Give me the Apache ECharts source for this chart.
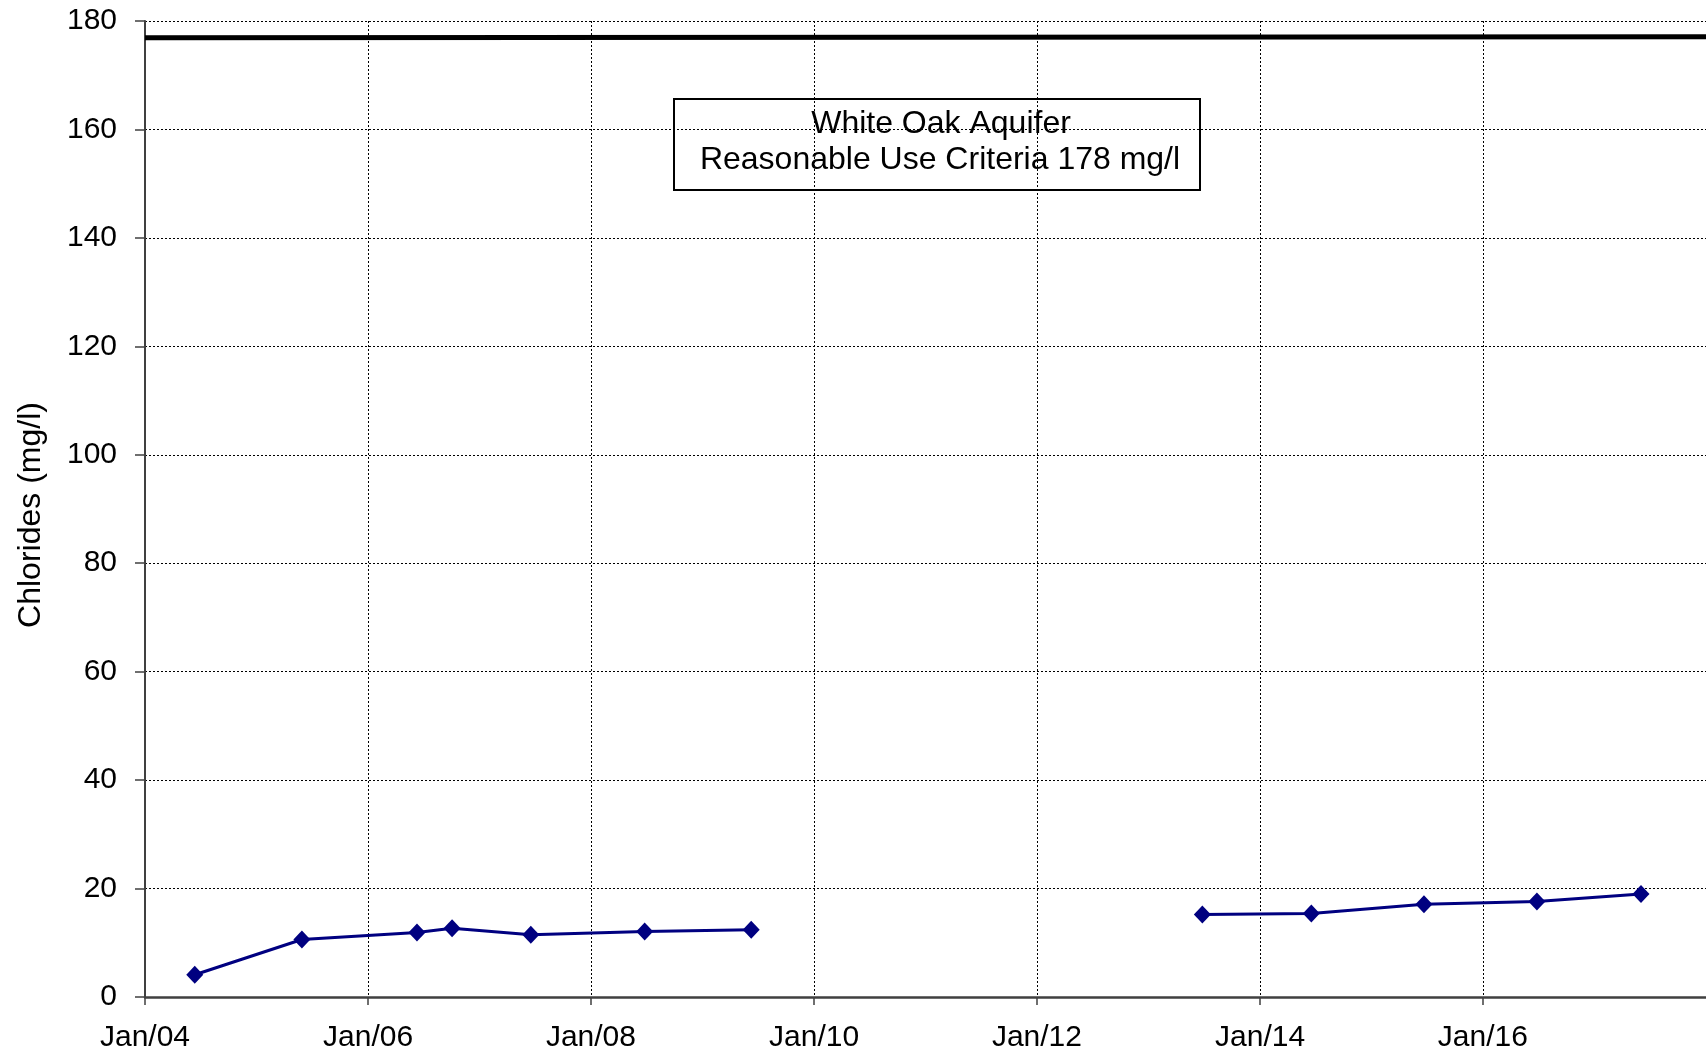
<!DOCTYPE html>
<html>
<head>
<meta charset="utf-8">
<title>Chlorides - White Oak Aquifer</title>
<script src="https://cdn.jsdelivr.net/npm/echarts@6/dist/echarts.min.js"></script>
<style>
html, body { margin: 0; padding: 0; background: #fff; }
#chart { width: 1706px; height: 1055px; }
</style>
</head>
<body>
<div id="chart"></div>
<script>
// sampling dates and chloride results (mg/l), first period
var datesA = ['2004-06-12', '2005-05-29', '2006-06-10', '2006-10-03', '2007-06-18', '2008-06-25', '2009-06-09']
var chloridesA = [4.1, 10.6, 11.9, 12.7, 11.5, 12.1, 12.4]
// second period
var datesB = ['2013-06-26', '2014-06-18', '2015-06-22', '2016-06-26', '2017-06-02']
var chloridesB = [15.2, 15.4, 17.1, 17.6, 19.0]
// reasonable use criteria line
var criteriaDates = ['2004-01-01', '2018-01-01']
var criteriaValues = [176.9, 177.1]
var boxLines = ['White Oak Aquifer', 'Reasonable Use Criteria 178 mg/l']

var FONT = '"Liberation Sans", Arial, sans-serif'
var TWO_YEARS = 2 * 365 * 24 * 3600 * 1000

function utc(s) {
  var p = s.split('-')
  return Date.UTC(+p[0], +p[1] - 1, +p[2])
}
function pairs(dates, vals) {
  return dates.map(function (d, i) {
    return [utc(d), vals[i]]
  })
}

var myChart = echarts.init(document.getElementById('chart'))

var pointSeries = function (dates, vals) {
  return {
    name: 'Chlorides',
    type: 'line',
    data: pairs(dates, vals),
    symbol: 'diamond',
    symbolSize: [17, 18],
    showAllSymbol: true,
    lineStyle: { color: '#000080', width: 3 },
    itemStyle: { color: '#000080' },
    z: 5
  }
}

var option = {
  useUTC: true,
  animation: false,
  backgroundColor: '#fff',
  grid: { left: 145, top: 21, right: 0, bottom: 58 },
  xAxis: {
    type: 'time',
    min: utc(criteriaDates[0]),
    max: utc(criteriaDates[1]),
    minInterval: TWO_YEARS,
    maxInterval: TWO_YEARS,
    axisLine: { lineStyle: { color: '#404040', width: 2.5 } },
    axisTick: { show: true, length: 8, lineStyle: { color: '#404040', width: 1.5 } },
    axisLabel: {
      color: '#000',
      fontFamily: FONT,
      fontSize: 30,
      margin: 26,
      showMaxLabel: false,
      formatter: function (v) {
        var y = new Date(v).getUTCFullYear()
        return 'Jan/' + String(y).slice(2)
      }
    },
    splitLine: { show: true, lineStyle: { color: '#000', width: 1, type: [2, 2] } },
    minorTick: { show: false }
  },
  yAxis: {
    type: 'value',
    min: 0,
    max: 180,
    interval: 20,
    name: 'Chlorides (mg/l)',
    nameLocation: 'middle',
    nameGap: 98,
    nameTextStyle: { color: '#000', fontFamily: FONT, fontSize: 32, padding: [0, 12, 0, 0] },
    axisLine: { show: true, lineStyle: { color: '#404040', width: 2 } },
    axisTick: { show: true, length: 10, lineStyle: { color: '#404040', width: 1.5 } },
    axisLabel: { color: '#000', fontFamily: FONT, fontSize: 30, margin: 28 },
    splitLine: { show: true, lineStyle: { color: '#000', width: 1, type: [2, 2] } }
  },
  series: [
    pointSeries(datesA, chloridesA),
    pointSeries(datesB, chloridesB),
    {
      name: 'Criteria',
      type: 'line',
      data: pairs(criteriaDates, criteriaValues),
      symbol: 'none',
      lineStyle: { color: '#000', width: 5 },
      z: 4
    }
  ],
  graphic: [
    {
      type: 'group',
      left: 673,
      top: 98,
      z: 100,
      children: [
        {
          type: 'rect',
          shape: { x: 0, y: 0, width: 526, height: 91 },
          style: { fill: '#fff', stroke: '#000', lineWidth: 2 }
        },
        {
          type: 'text',
          x: 267,
          y: 25,
          style: {
            text: boxLines[0],
            fill: '#000',
            font: '32px ' + FONT,
            textAlign: 'center',
            textVerticalAlign: 'middle'
          }
        },
        {
          type: 'text',
          x: 266,
          y: 61,
          style: {
            text: boxLines[1],
            fill: '#000',
            font: '32px ' + FONT,
            textAlign: 'center',
            textVerticalAlign: 'middle'
          }
        }
      ]
    }
  ]
}

myChart.setOption(option)
window.onresize = function () {
  myChart.resize()
}
</script>
</body>
</html>
